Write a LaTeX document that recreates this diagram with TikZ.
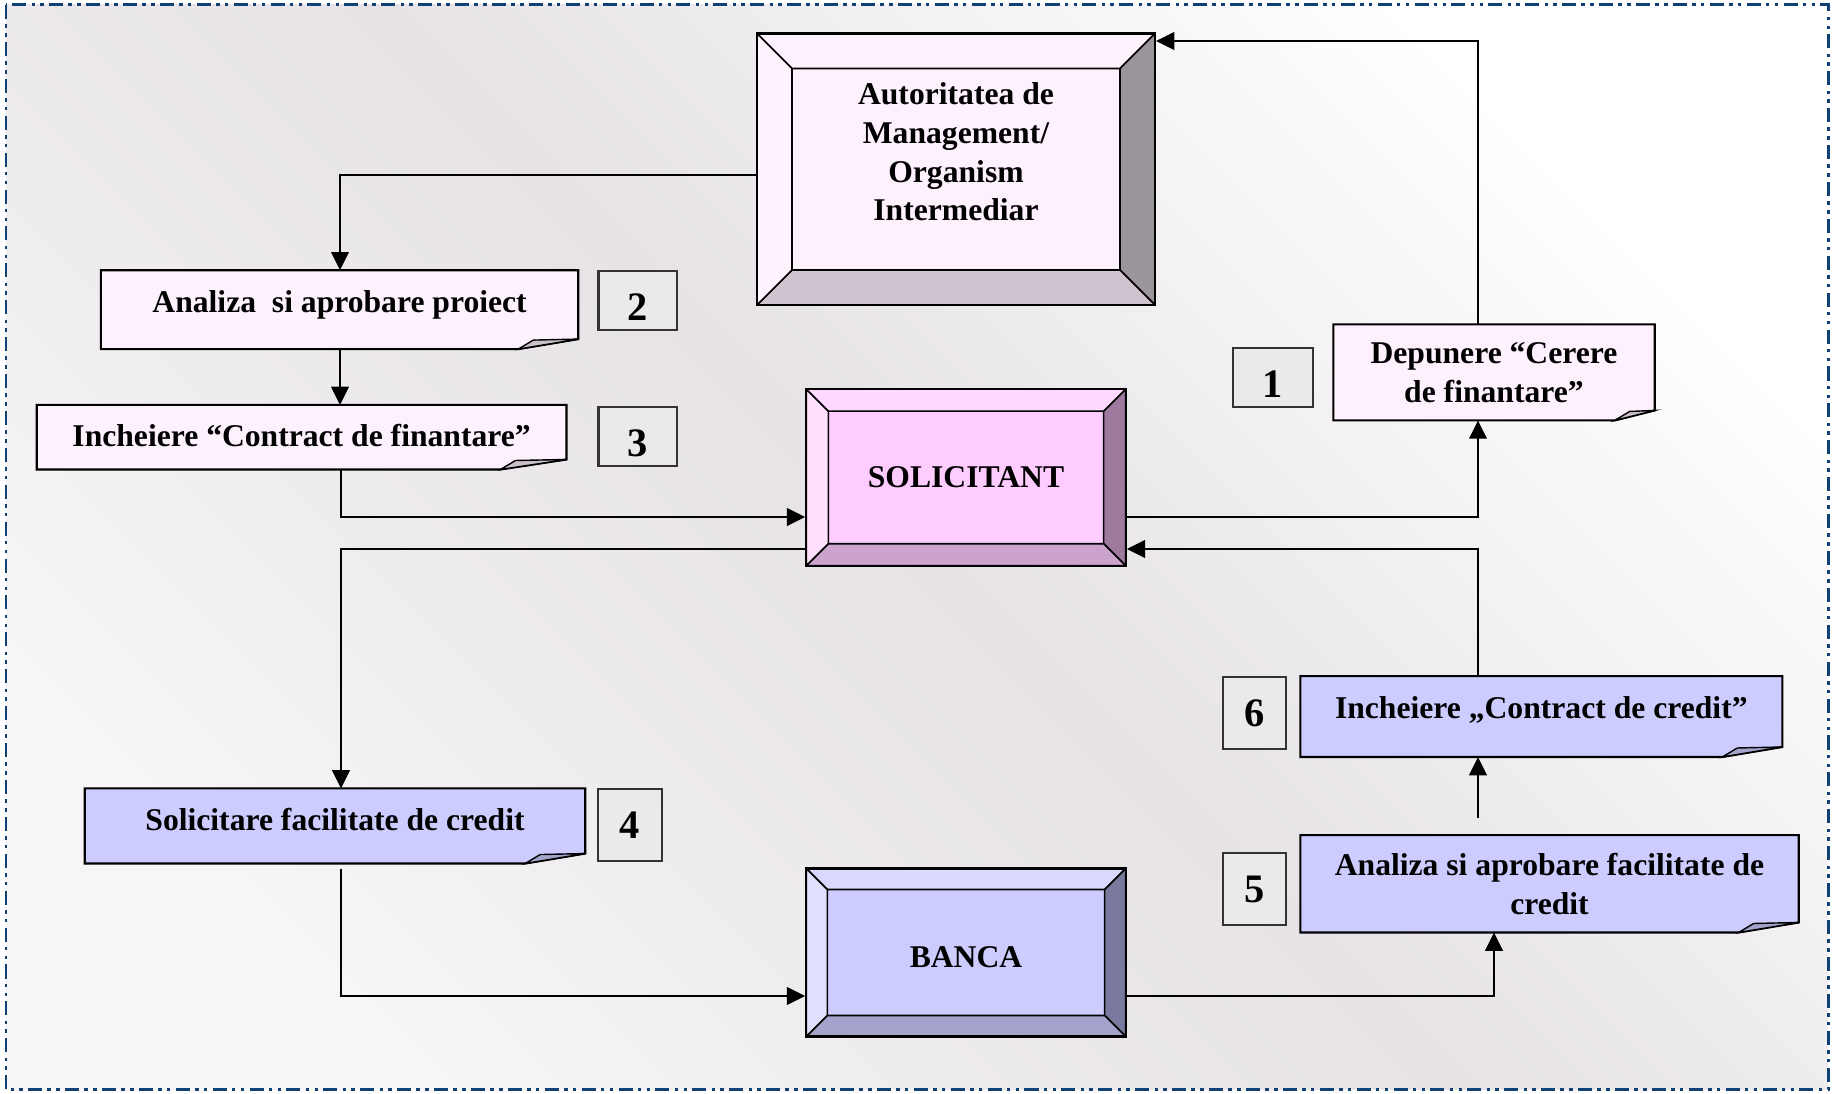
\documentclass[tikz,border=0pt]{standalone}
\usepackage{fontspec}
\setmainfont{Liberation Serif}
\usetikzlibrary{arrows.meta,backgrounds,calc}
\definecolor{frame}{HTML}{0F4174}
\definecolor{bggray}{HTML}{E6E2E6}
\definecolor{bglight}{HTML}{F7F5F7}
\definecolor{notepink}{HTML}{FEF1FE}
\definecolor{noteblue}{HTML}{CCCCFF}
\definecolor{flappink}{HTML}{C9C1C9}
\definecolor{flapblue}{HTML}{A3A3CC}
\definecolor{numgray}{HTML}{EAEAEA}
\definecolor{autface}{HTML}{FEF1FE}
\definecolor{auttop}{HTML}{FEF1FE}
\definecolor{autleft}{HTML}{FEF3FE}
\definecolor{autright}{HTML}{9B949B}
\definecolor{autbottom}{HTML}{CFC3CF}
\definecolor{soliface}{HTML}{FFCCFF}
\definecolor{solitop}{HTML}{FFD9FF}
\definecolor{solileft}{HTML}{FFE0FF}
\definecolor{soliright}{HTML}{9E7A9E}
\definecolor{solibottom}{HTML}{CCA3CC}
\definecolor{bankface}{HTML}{CCCCFF}
\definecolor{banktop}{HTML}{D9D9FF}
\definecolor{bankleft}{HTML}{E0E0FF}
\definecolor{bankright}{HTML}{7A7A9E}
\definecolor{bankbottom}{HTML}{A3A3CC}
\tikzset{
  txt/.style={font=\fontsize{9}{11}\selectfont\bfseries, align=center, inner sep=0pt},
  bevel/.style 2 args={txt, draw, line width=0.6pt, fill=#1face, path picture={
    \path (path picture bounding box.north west) coordinate (p1) (path picture bounding box.north east) coordinate (p2)
      (path picture bounding box.south east) coordinate (p3) (path picture bounding box.south west) coordinate (p4)
      ($(p1)+(#2,-#2)$) coordinate (q1) ($(p2)+(-#2,-#2)$) coordinate (q2)
      ($(p3)+(-#2,#2)$) coordinate (q3) ($(p4)+(#2,#2)$) coordinate (q4);
    \filldraw[line width=0.45pt, fill=#1top] (p1)--(p2)--(q2)--(q1)--cycle;
    \filldraw[line width=0.45pt, fill=#1right] (p2)--(p3)--(q3)--(q2)--cycle;
    \filldraw[line width=0.45pt, fill=#1bottom] (p3)--(p4)--(q4)--(q3)--cycle;
    \filldraw[line width=0.45pt, fill=#1left] (p4)--(p1)--(q1)--(q4)--cycle;
  }},
  note/.style={txt},
  lift/.style={text height=6.2pt, text depth=#1},
  num/.style={draw=black!80, fill=numgray, line width=0.6pt, font=\fontsize{11.5}{11.5}\selectfont\bfseries, inner sep=0pt, text depth=0pt},
  arr/.style={-{Triangle[length=5.2pt,width=5pt]}, line width=0.6pt}
}
\begin{document}
\begin{tikzpicture}[x=0.1mm,y=-0.1mm]
\useasboundingbox (0,0) rectangle (1833,1094);
\node[bevel={aut}{3.5mm}, minimum width=39.8mm, minimum height=27.15mm] (aut) at (956,169.3) {};
\node[txt] (autt) at (956,152) {Autoritatea de\\Management/\\Organism\\Intermediar};
\node[bevel={soli}{2.2mm}, minimum width=31.94mm, minimum height=17.66mm] (soli) at (966,477.5) {SOLICITANT};
\node[bevel={bank}{2.1mm}, minimum width=31.94mm, minimum height=16.8mm, text height=8.8pt, text depth=0pt] (bank) at (966,952.5) {BANCA};
\node[note, lift=4.85pt, minimum width=47.6mm, minimum height=7.74mm] (ana) at (339.6,309.7) {Analiza\ \ si aprobare proiect};
\node[note, lift=1.1pt, minimum width=52.84mm, minimum height=6.32mm] (inc) at (301.6,437.2) {Incheiere “Contract de finantare”};
\node[note, minimum width=32mm, minimum height=9.47mm] (dep) at (1494,372.4) {Depunere “Cerere\\de finantare”};
\node[note, lift=3.4pt, minimum width=49.9mm, minimum height=7.37mm] (sol) at (335,826) {Solicitare facilitate de credit};
\node[note, lift=5.2pt, minimum width=48.06mm, minimum height=7.94mm] (ccr) at (1541.3,716.6) {Incheiere „Contract de credit”};
\node[note, minimum width=49.7mm, minimum height=9.6mm] (acr) at (1549.5,883.8) {Analiza si aprobare facilitate de\\credit};
\foreach \n/\x/\y/\w/\h/\t in {1/1273/377.6/7.95/5.84/11.2,2/637.8/300.4/7.85/5.87/11.2,3/637.8/436.6/7.85/5.96/11.2,4/630/825.2/6.32/7.25/7.8,5/1254.4/889/6.32/7.13/7.8,6/1254.4/713/6.32/7.24/7.8}
  \node[num, text height=\t pt, minimum width=\w mm, minimum height=\h mm] (n\n) at (\x,\y) {\n};
\begin{scope}[on background layer]
\fill[white] (0,0) rectangle (1833,1094);
\shade[top color=white, bottom color=bglight, middle color=bggray, shading angle=-45] (6,5) rectangle (1828,1090);
\draw[frame, line width=0.85pt, dash pattern=on 4pt off 1.5pt on 1pt off 1.5pt on 1pt off 1.5pt] (6,5) rectangle (1828,1090);
\foreach \n/\c/\f in {ana/pink/60,inc/pink/66,dep/pink/40,sol/blue/60,ccr/blue/60,acr/blue/60} {
  \filldraw[fill=note\c, line width=0.6pt] (\n.north west) -- (\n.north east) -- ($(\n.south east)+(0,-10)$) -- ($(\n.south east)+(-\f,0)$) -- (\n.south west) -- cycle;
  \filldraw[fill=flap\c, line width=0.4pt] ($(\n.south east)+(-\f,0)$) -- ($(\n.south east)+(-\f+15,-9)$) -- ($(\n.south east)+(0,-10)$) -- cycle;
}
\end{scope}
\draw[arr] (dep.north -| 1478,0) |- (aut.east |- 0,41);
\draw[arr] (aut.west |- 0,175) -| (ana.north -| 340,0);
\draw[arr] (ana.south -| 340,0) -- (inc.north -| 340,0);
\draw[arr] (inc.south -| 341,0) |- (soli.west |- 0,517);
\draw[arr] (soli.west |- 0,549) -| (sol.north -| 341,0);
\draw[arr, shorten <=1.5pt] (sol.south -| 341,0) |- (bank.west |- 0,996);
\draw[arr] (bank.east |- 0,996) -| (acr.south -| 1494,0);
\draw[arr, shorten <=5pt] (acr.north -| 1478,0) -- (ccr.south -| 1478,0);
\draw[arr] (ccr.north -| 1478,0) |- (soli.east |- 0,549);
\draw[arr] (soli.east |- 0,517) -| (dep.south -| 1478,0);
\end{tikzpicture}
\end{document}
